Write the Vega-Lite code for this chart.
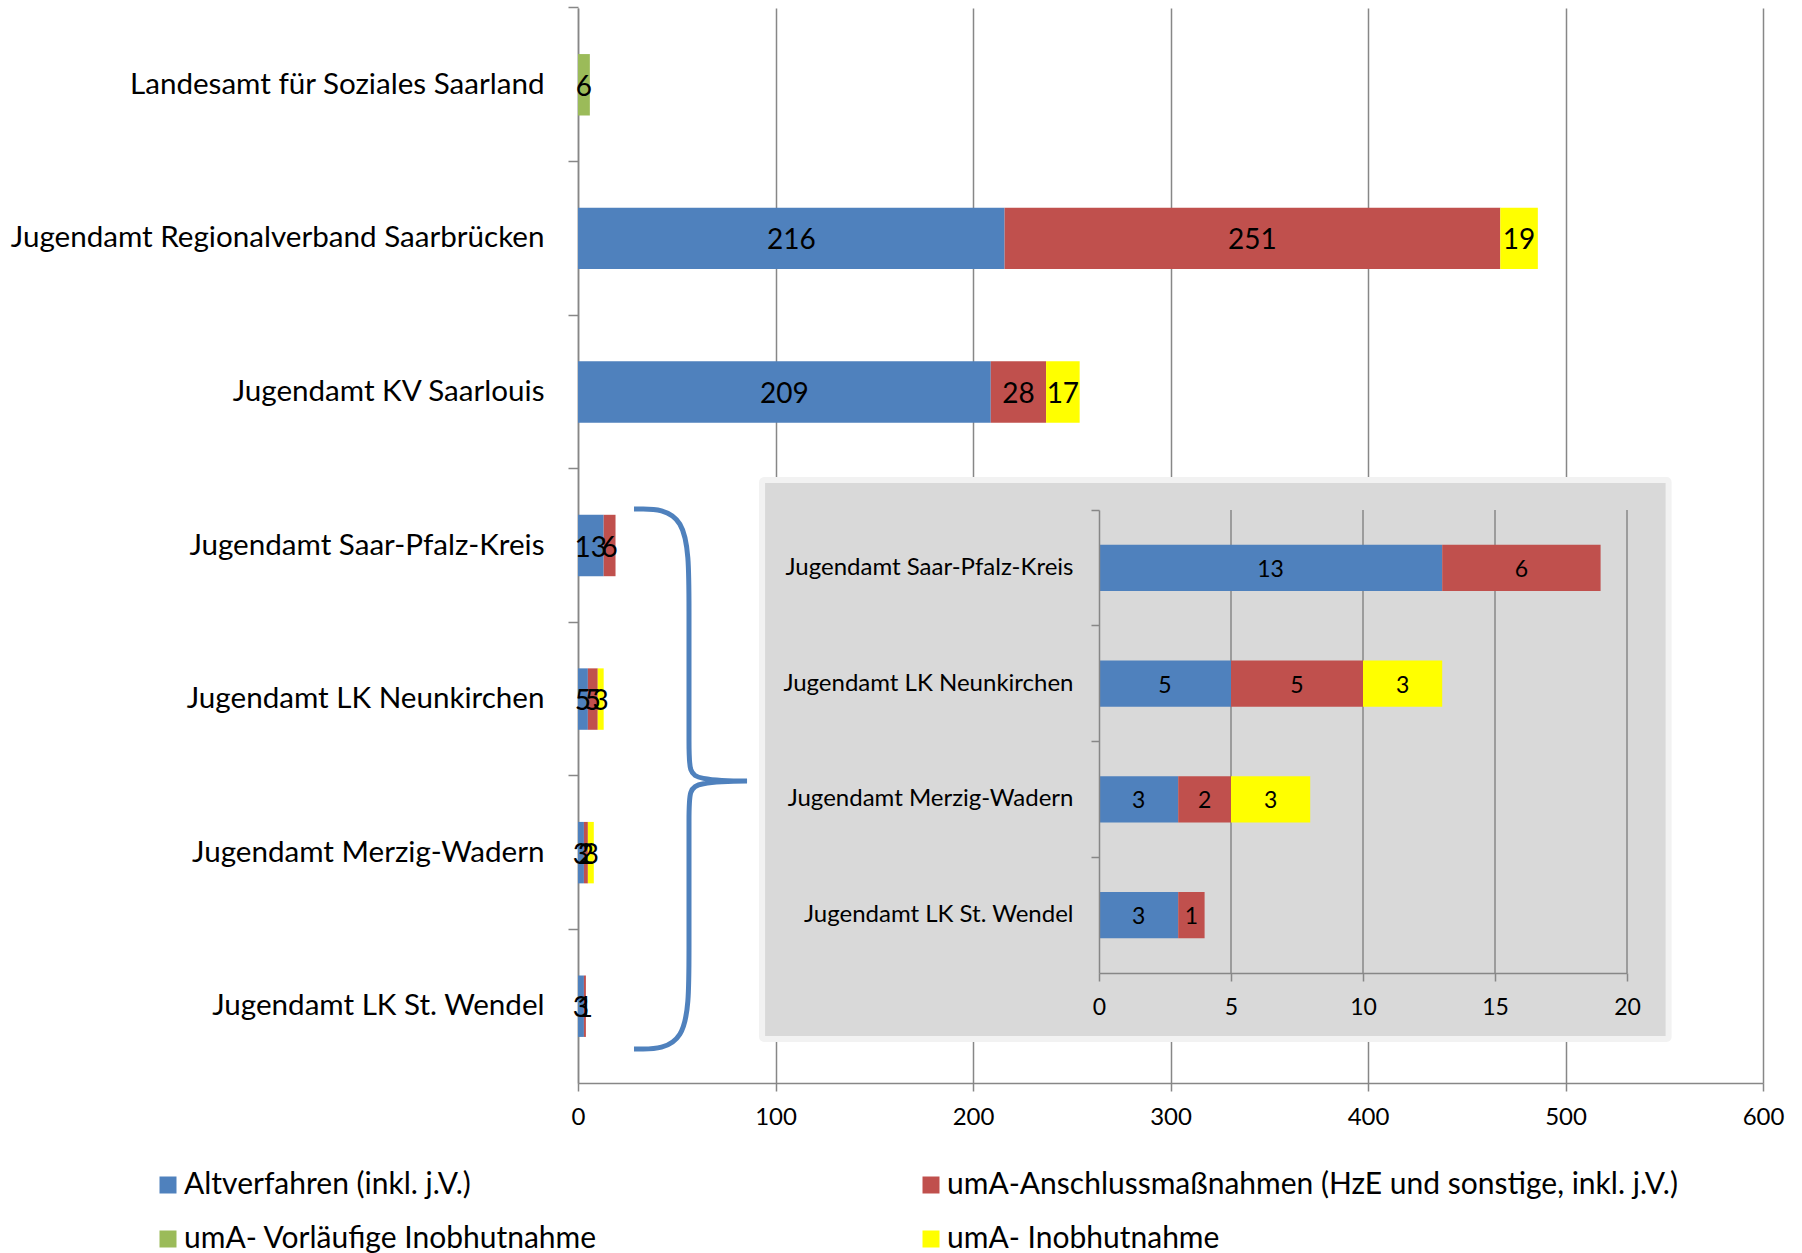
{
  "$schema": "https://vega.github.io/schema/vega-lite/v6.json",
  "width": 1185,
  "height": 1075,
  "autosize": {"type": "none"},
  "padding": {"left": 578, "top": 8, "right": 39, "bottom": 170},
  "background": "white",
  "config": {
    "view": {"stroke": null},
    "font": "Lato",
    "axis": {"labelColor": "#000000", "labelFont": "Lato", "labelFlush": false, "domainColor": "#878787", "tickColor": "#878787", "gridColor": "#878787", "domainWidth": 1.5, "tickWidth": 1.5, "gridWidth": 1.5, "title": null}
  },
  "datasets": {
    "main": [
      {"cat": "Landesamt für Soziales Saarland", "series": "umA- Vorläufige Inobhutnahme", "value": 6, "ord": 3},
      {"cat": "Jugendamt Regionalverband Saarbrücken", "series": "Altverfahren (inkl. j.V.)", "value": 216, "ord": 1},
      {"cat": "Jugendamt Regionalverband Saarbrücken", "series": "umA-Anschlussmaßnahmen (HzE und sonstige, inkl. j.V.)", "value": 251, "ord": 2},
      {"cat": "Jugendamt Regionalverband Saarbrücken", "series": "umA- Inobhutnahme", "value": 19, "ord": 4},
      {"cat": "Jugendamt KV Saarlouis", "series": "Altverfahren (inkl. j.V.)", "value": 209, "ord": 1},
      {"cat": "Jugendamt KV Saarlouis", "series": "umA-Anschlussmaßnahmen (HzE und sonstige, inkl. j.V.)", "value": 28, "ord": 2},
      {"cat": "Jugendamt KV Saarlouis", "series": "umA- Inobhutnahme", "value": 17, "ord": 4},
      {"cat": "Jugendamt Saar-Pfalz-Kreis", "series": "Altverfahren (inkl. j.V.)", "value": 13, "ord": 1},
      {"cat": "Jugendamt Saar-Pfalz-Kreis", "series": "umA-Anschlussmaßnahmen (HzE und sonstige, inkl. j.V.)", "value": 6, "ord": 2},
      {"cat": "Jugendamt LK Neunkirchen", "series": "Altverfahren (inkl. j.V.)", "value": 5, "ord": 1},
      {"cat": "Jugendamt LK Neunkirchen", "series": "umA-Anschlussmaßnahmen (HzE und sonstige, inkl. j.V.)", "value": 5, "ord": 2},
      {"cat": "Jugendamt LK Neunkirchen", "series": "umA- Inobhutnahme", "value": 3, "ord": 4},
      {"cat": "Jugendamt Merzig-Wadern", "series": "Altverfahren (inkl. j.V.)", "value": 3, "ord": 1},
      {"cat": "Jugendamt Merzig-Wadern", "series": "umA-Anschlussmaßnahmen (HzE und sonstige, inkl. j.V.)", "value": 2, "ord": 2},
      {"cat": "Jugendamt Merzig-Wadern", "series": "umA- Inobhutnahme", "value": 3, "ord": 4},
      {"cat": "Jugendamt LK St. Wendel", "series": "Altverfahren (inkl. j.V.)", "value": 3, "ord": 1},
      {"cat": "Jugendamt LK St. Wendel", "series": "umA-Anschlussmaßnahmen (HzE und sonstige, inkl. j.V.)", "value": 1, "ord": 2}
    ],
    "brace": [
      {"i": 0, "bx": 28.35, "by": 3.262},
      {"i": 1, "bx": 56.2, "by": 3.262},
      {"i": 2, "bx": 56.2, "by": 3.855},
      {"i": 3, "bx": 56.2, "by": 4.929},
      {"i": 4, "bx": 56.2, "by": 5.034},
      {"i": 5, "bx": 100.3, "by": 5.034},
      {"i": 6, "bx": 56.2, "by": 5.034},
      {"i": 7, "bx": 56.2, "by": 5.138},
      {"i": 8, "bx": 56.2, "by": 6.199},
      {"i": 9, "bx": 56.2, "by": 6.779},
      {"i": 10, "bx": 28.35, "by": 6.779}
    ],
    "igrid": [{"g": 5}, {"g": 10}, {"g": 15}, {"g": 20}]
  },
  "layer": [
    {
      "data": {"name": "main"},
      "encoding": {
        "y": {
          "field": "cat", "type": "nominal",
          "scale": {
            "domain": ["Landesamt für Soziales Saarland", "Jugendamt Regionalverband Saarbrücken", "Jugendamt KV Saarlouis", "Jugendamt Saar-Pfalz-Kreis", "Jugendamt LK Neunkirchen", "Jugendamt Merzig-Wadern", "Jugendamt LK St. Wendel"],
            "paddingInner": 0.6, "paddingOuter": 0.3
          },
          "axis": {"orient": "left", "labelFontSize": 29.6, "labelPadding": 24, "tickSize": 10, "bandPosition": -0.75, "labelLimit": 700, "grid": false}
        },
        "x": {
          "field": "value", "type": "quantitative", "stack": "zero",
          "scale": {"domain": [0, 600], "nice": false},
          "axis": {"orient": "bottom", "values": [0, 100, 200, 300, 400, 500, 600], "grid": true, "labelFontSize": 24, "tickSize": 8, "labelPadding": 14}
        },
        "order": {"field": "ord", "type": "quantitative"}
      },
      "layer": [
        {
          "mark": {"type": "bar"},
          "encoding": {
            "color": {
              "field": "series", "type": "nominal",
              "scale": {
                "domain": ["Altverfahren (inkl. j.V.)", "umA-Anschlussmaßnahmen (HzE und sonstige, inkl. j.V.)", "umA- Vorläufige Inobhutnahme", "umA- Inobhutnahme"],
                "range": ["#4F81BD", "#C0504D", "#9BBB59", "#FFFF00"]
              },
              "legend": {
                "title": null, "orient": "none", "legendX": -425, "legendY": 1162,
                "direction": "horizontal", "columns": 2, "columnPadding": 318, "rowPadding": 24,
                "symbolType": "square", "symbolSize": 289, "symbolStrokeWidth": 0,
                "labelFontSize": 30, "labelFont": "Lato", "labelColor": "#000000", "labelOffset": 1, "labelLimit": 800, "padding": 0
              }
            }
          }
        },
        {
          "mark": {"type": "text", "fontSize": 28, "color": "#000000", "align": "center", "baseline": "middle", "dy": 3},
          "encoding": {
            "x": {"field": "value", "type": "quantitative", "stack": "zero", "bandPosition": 0.5},
            "text": {"field": "value", "type": "quantitative"}
          }
        }
      ]
    },
    {
      "data": {"values": [{}]},
      "mark": {"type": "rect", "fill": "#D9D9D9", "stroke": "#F2F2F2", "strokeWidth": 6, "cornerRadius": 2},
      "encoding": {
        "x": {"datum": 93.2, "type": "quantitative", "scale": {"domain": [0, 600], "nice": false}, "axis": null},
        "x2": {"datum": 552.2},
        "y": {"datum": 3.0735, "type": "quantitative", "scale": {"domain": [0, 7], "nice": false, "zero": false, "reverse": true}, "axis": null},
        "y2": {"datum": 6.7135}
      }
    },
    {
      "data": {"name": "brace"},
      "mark": {"type": "line", "interpolate": "basis", "stroke": "#4F81BD", "strokeWidth": 5},
      "encoding": {
        "x": {"field": "bx", "type": "quantitative", "scale": {"domain": [0, 600], "nice": false}, "axis": null},
        "y": {"field": "by", "type": "quantitative", "scale": {"domain": [0, 7], "nice": false, "zero": false, "reverse": true}, "axis": null},
        "order": {"field": "i", "type": "quantitative"}
      }
    },
    {
      "data": {"name": "igrid"},
      "mark": {"type": "rule", "stroke": "#878787", "strokeWidth": 1.5},
      "encoding": {
        "x": {"field": "g", "type": "quantitative", "scale": {"domain": [0, 20], "range": [521, 1049], "nice": false}, "axis": null},
        "y": {"datum": 3.2688, "type": "quantitative", "scale": {"domain": [0, 7], "nice": false, "zero": false, "reverse": true}, "axis": null},
        "y2": {"datum": 6.2837}
      }
    },
    {
      "data": {"name": "main"},
      "transform": [{"filter": {"field": "cat", "oneOf": ["Jugendamt Saar-Pfalz-Kreis", "Jugendamt LK Neunkirchen", "Jugendamt Merzig-Wadern", "Jugendamt LK St. Wendel"]}}],
      "encoding": {
        "y": {
          "field": "cat", "type": "nominal",
          "scale": {
            "domain": ["Jugendamt Saar-Pfalz-Kreis", "Jugendamt LK Neunkirchen", "Jugendamt Merzig-Wadern", "Jugendamt LK St. Wendel"],
            "range": [502, 965], "paddingInner": 0.6, "paddingOuter": 0.3
          },
          "axis": {"orient": "left", "offset": -521, "labelFontSize": 24, "labelPadding": 18, "tickSize": 8, "bandPosition": -0.75, "labelLimit": 600, "grid": false, "zindex": 1}
        },
        "x": {
          "field": "value", "type": "quantitative", "stack": "zero",
          "scale": {"domain": [0, 20], "range": [521, 1049], "nice": false},
          "axis": {"orient": "bottom", "offset": -110, "values": [0, 5, 10, 15, 20], "grid": false, "labelFontSize": 23, "tickSize": 8, "labelPadding": 15, "zindex": 1}
        },
        "order": {"field": "ord", "type": "quantitative"}
      },
      "layer": [
        {
          "mark": {"type": "bar"},
          "encoding": {
            "color": {"field": "series", "type": "nominal", "legend": null}
          }
        },
        {
          "mark": {"type": "text", "fontSize": 23, "color": "#000000", "align": "center", "baseline": "middle", "dy": 2},
          "encoding": {
            "x": {"field": "value", "type": "quantitative", "stack": "zero", "bandPosition": 0.5},
            "text": {"field": "value", "type": "quantitative"}
          }
        }
      ]
    }
  ],
  "resolve": {
    "scale": {"x": "independent", "y": "independent"},
    "axis": {"x": "independent", "y": "independent"}
  }
}
